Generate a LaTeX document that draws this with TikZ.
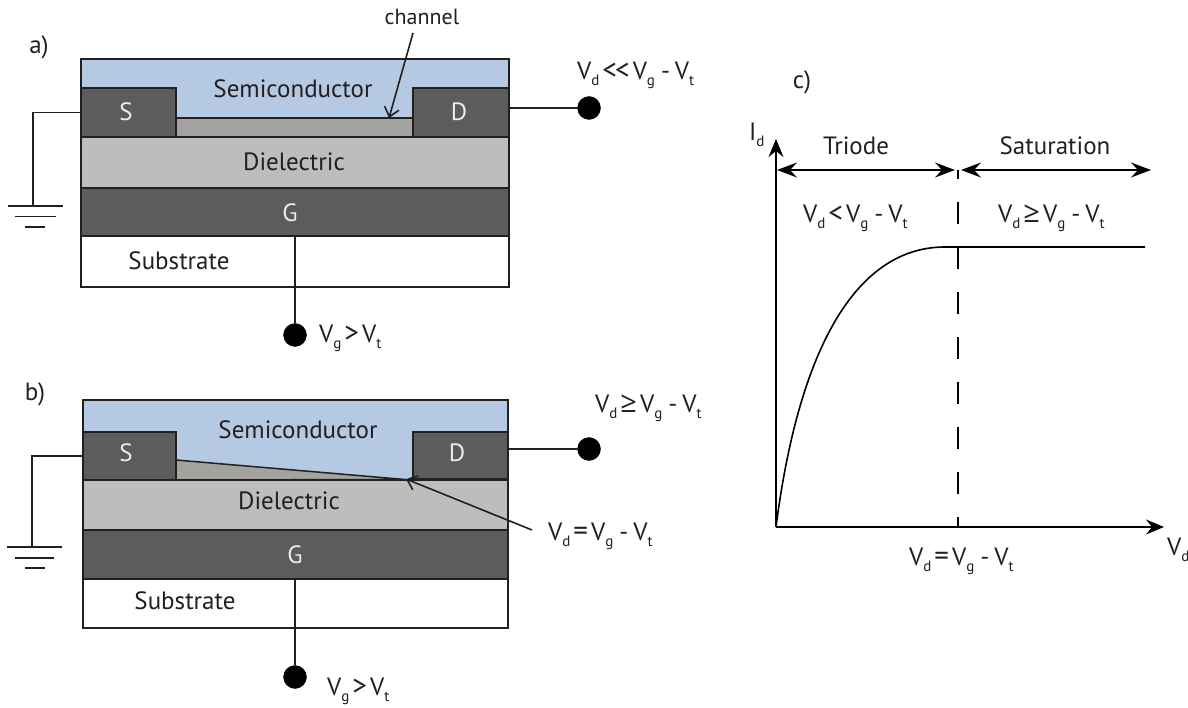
\documentclass[tikz,border=0pt]{standalone}
\usepackage{fontspec}
\setmainfont{PT Sans}
\newfontfamily\symfont{Open Sans}
\usetikzlibrary{arrows.meta,fit}
\definecolor{semi}{HTML}{B5CAE2}
\definecolor{darkl}{HTML}{5C5C5C}
\definecolor{chan}{HTML}{A3A3A0}
\definecolor{diel}{HTML}{BDBDBD}
\definecolor{ink}{HTML}{231F20}
\newcommand\lowsub[1]{\raisebox{-6pt}{\fontsize{15}{15}\selectfont #1}}
\newcommand\Vd{V\lowsub{d}}
\newcommand\Vg{V\lowsub{g}}
\newcommand\Vt{V\lowsub{t}}
\newcommand\gp{\hspace{3pt}}
\newcommand\opr[1]{\gp{\fontsize{29}{29}\selectfont #1}\gp}
\newcommand\minusgap{\hspace{6pt}-\hspace{5pt}}
\tikzset{
  layerbox/.style={draw=ink,line width=1.5pt,inner sep=0pt},
  semilayer/.style={layerbox,fill=semi},
  darklayer/.style={layerbox,fill=darkl},
  chanlayer/.style={layerbox,fill=chan},
  diellayer/.style={layerbox,fill=diel},
  sublayer/.style={layerbox,fill=white},
  txt/.style={text=ink,font=\fontsize{25}{25}\selectfont,inner sep=0pt},
  lbl/.style={txt,anchor=base west},
  wtxt/.style={text=white!92!black,font=\fontsize{25}{25}\selectfont,inner sep=0pt},
  wire/.style={draw=ink,line width=1.5pt},
  dotnode/.style={circle,fill=black,draw=black,minimum size=23pt,inner sep=0pt},
  pointer/.style={draw=ink,line width=1.6pt,-{Straight Barb[length=9pt,width=15pt]}},
  axis/.style={draw=black,line width=1.6pt,-{Stealth[length=18pt,width=15pt,inset=6pt]}},
  span/.style={draw=black,line width=1.6pt,{Stealth[length=20pt,width=15pt,inset=7pt]}-{Stealth[length=20pt,width=15pt,inset=7pt]}},
}
\begin{document}
\begin{tikzpicture}[x=1pt,y=-1pt]
\useasboundingbox (0,0) rectangle (1188,708);
% panel a
\node[semilayer,fit={(81,59)(509,137)}] (semiA) {};
\node[chanlayer,fit={(176,118)(413,137)}] (chanA) {};
\node[darklayer,fit={(81,88)(176,137)}] (sA) {};
\node[darklayer,fit={(413,88)(509,137)}] (dA) {};
\node[diellayer,fit={(81,137)(509,188)}] (dielA) {};
\node[darklayer,fit={(81,188)(509,236)}] (gA) {};
\node[sublayer,fit={(81,236)(509,287)}] (subA) {};
\node[txt] (tSemiA) at (293,89) {Semiconductor};
\node[txt] (tDielA) at (294,162) {Dielectric};
\node[txt] (tSubA) at (179,261) {Substrate};
\node[wtxt] (tsA) at (126,112) {S};
\node[wtxt] (tdA) at (459,112) {D};
\node[wtxt] (tgA) at (290,213) {G};
\node[txt] (lblA) at (39,47) {a)};
\node[dotnode] (dotDA) at (589,108) {};
\node[dotnode] (dotGA) at (295,335) {};
\draw[wire] (dA.east |- dotDA) -- (dotDA);
\draw[wire] (dotGA |- gA.south) -- (dotGA);
\coordinate (gndA) at (33,206);
\draw[wire] (sA.west) -| (gndA);
\draw[wire] (gndA) ++(-25,0) -- ++(55,0);
\draw[wire] (gndA) ++(-18,10.5) -- ++(41,0);
\draw[wire] (gndA) ++(-8,21) -- ++(20,0);
\node[txt] (tChan) at (422,17) {\fontsize{22}{22}\selectfont channel};
\coordinate (chanStart) at (413,33);
\coordinate (chanEnd) at (389,118);
\draw[pointer] (chanStart) -- (chanEnd);
\node[lbl] (vA) at (577,80) {\Vd\opr{{<}\hspace{-2pt}{<}}\Vg\minusgap\Vt};
\node[lbl] (vgA) at (319,342) {\Vg\opr{>}\Vt};
% panel b
\node[semilayer,fit={(83,400)(508,480)}] (semiB) {};
\draw[draw=ink,line width=1.5pt,fill=chan] (176,460) -- (405,479.5) -- (176,480) -- cycle;
\node[darklayer,fit={(83,432)(176,480)}] (sB) {};
\node[darklayer,fit={(413,432)(508,479)}] (dB) {};
\node[diellayer,fit={(83,480)(508,530)}] (dielB) {};
\node[darklayer,fit={(83,530)(508,579)}] (gB) {};
\node[sublayer,fit={(83,579)(508,628)}] (subB) {};
\node[txt] (tSemiB) at (298,430) {Semiconductor};
\node[txt] (tDielB) at (289,501) {Dielectric};
\node[txt] (tSubB) at (185,601) {Substrate};
\node[wtxt] (tsB) at (126,453) {S};
\node[wtxt] (tdB) at (457,453) {D};
\node[wtxt] (tgB) at (295,555) {G};
\node[txt] (lblB) at (35,394) {b)};
\node[dotnode] (dotDB) at (589,449) {};
\node[dotnode] (dotGB) at (295,677) {};
\draw[wire] (dB.east |- dotDB) -- (dotDB);
\draw[wire] (dotGB |- gB.south) -- (dotGB);
\coordinate (gndB) at (32,547);
\draw[wire] (sB.west) -| (gndB);
\draw[wire] (gndB) ++(-25,0) -- ++(55,0);
\draw[wire] (gndB) ++(-17,11) -- ++(39,0);
\draw[wire] (gndB) ++(-7,21) -- ++(20,0);
\coordinate (pinchStart) at (532,530);
\coordinate (pinchEnd) at (406,479);
\draw[pointer] (pinchStart) -- (pinchEnd);
\node[lbl] (vB) at (595,412) {\Vd\opr{\symfont ≥}\Vg\minusgap\Vt};
\node[lbl] (vpB) at (548,540) {\Vd\opr{=}\Vg\minusgap\Vt};
\node[lbl] (vgB) at (327,695) {\Vg\opr{>}\Vt};
% panel c
\coordinate (org) at (776,527);
\coordinate (yend) at (776,139);
\coordinate (xend) at (1164,527);
\coordinate (knee) at (945,247);
\coordinate (flat) at (1145,247);
\coordinate (dashTop) at (958,170);
\coordinate (dashBot) at (958,527);
\draw[axis] (org) -- (yend);
\draw[axis] (org) -- (xend);
\draw[draw=black,line width=1.5pt,dash pattern=on 22pt off 23pt,dash phase=12pt] (dashBot) -- (dashTop);
\draw[draw=black,line width=1.6pt] (org) .. controls (800,340) and (860,247) .. (knee) -- (flat);
\coordinate (tL) at (777,170);
\coordinate (tR) at (955,170);
\coordinate (sL) at (961,170);
\coordinate (sR) at (1151,170);
\draw[span] (tL) -- (tR);
\draw[span] (sL) -- (sR);
\node[txt] (lblC) at (802,82) {c)};
\node[lbl] (iD) at (749,141) {I\lowsub{d}};
\node[txt] (tTri) at (856,146) {Triode};
\node[txt] (tSat) at (1055,146) {Saturation};
\node[lbl] (vT) at (803,223) {\Vd\opr{<}\Vg\minusgap\Vt};
\node[lbl] (vS) at (998,223) {\Vd\opr{\symfont ≥}\Vg\minusgap\Vt};
\node[lbl] (vK) at (909,565) {\Vd\opr{=}\Vg\minusgap\Vt};
\node[lbl] (vX) at (1167,555) {\Vd};
\end{tikzpicture}
\end{document}
